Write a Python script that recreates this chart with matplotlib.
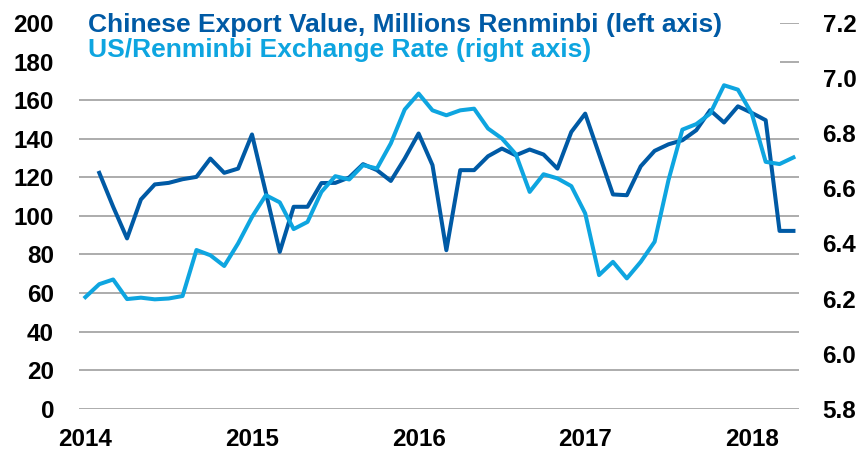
import numpy as np
import matplotlib
matplotlib.use("Agg")
import matplotlib.pyplot as plt
from matplotlib.patches import Rectangle

plt.rcParams['font.family'] = ['Liberation Sans', 'DejaVu Sans']
plt.rcParams['font.weight'] = 'bold'

# meses desde enero 2014
years = ["2014", "2015", "2016", "2017", "2018"]
year_pos = [0, 12, 24, 36, 48]

# valor de exportaciones (eje izquierdo), feb 2014 - abr 2018
export_months = list(range(1, 52))
export_value = [122.3, 104.7, 88.3, 108.5, 116.3, 117.1, 119.0, 120.2, 129.7, 122.3,
                124.5, 142.2, 112.0, 81.3, 104.7, 104.7, 117.0, 117.1, 119.9, 126.8,
                123.7, 118.1, 129.7, 142.7, 126.3, 82.2, 123.7, 123.7, 130.9, 134.9,
                131.4, 134.4, 131.8, 124.5, 143.5, 153.0, 132.0, 111.1, 110.7, 125.7,
                133.7, 137.1, 139.2, 144.4, 154.8, 148.4, 156.8, 153.4, 149.6, 92.2,
                92.2]

# tipo de cambio (eje derecho), ene 2014 - abr 2018
rate_months = list(range(0, 52))
exchange_rate = [6.205, 6.252, 6.269, 6.198, 6.203, 6.197, 6.200, 6.209, 6.376, 6.357,
                 6.318, 6.400, 6.496, 6.575, 6.549, 6.452, 6.478, 6.587, 6.644, 6.632,
                 6.684, 6.672, 6.763, 6.886, 6.944, 6.883, 6.865, 6.883, 6.889, 6.817,
                 6.781, 6.724, 6.587, 6.651, 6.636, 6.608, 6.509, 6.285, 6.333, 6.273,
                 6.333, 6.406, 6.630, 6.813, 6.833, 6.871, 6.974, 6.958, 6.871, 6.696,
                 6.688, 6.712]

dark = "#005aa5"
light = "#0ea5e0"

fig = plt.figure(figsize=(8.61, 4.51), dpi=100)
ax = fig.add_axes([79/861, 1-408.7/451, 720/861, 385.7/451])
ax2 = ax.twinx()

ax.plot(export_months, export_value, color=dark, lw=2.9, zorder=3)
ax2.plot(rate_months, exchange_rate, color=light, lw=2.9, zorder=3)

ax.set_xlim(-0.46, 51.4)
ax.set_ylim(0, 200)
ax2.set_ylim(5.8, 7.2)
ax.set_yticks(np.arange(0, 201, 20))
ax2.set_yticks(np.arange(5.8, 7.21, 0.2))
ax2.set_yticklabels(["%.1f" % v for v in np.arange(5.8, 7.21, 0.2)])
ax.set_xticks(year_pos)
ax.set_xticklabels(years)

ax.grid(axis='y', color="#a6a6a6", lw=1.3)
ax.set_axisbelow(True)
for a in (ax, ax2):
    for s in a.spines.values():
        s.set_visible(False)
    a.tick_params(length=0, labelsize=17.5)
ax.tick_params(axis='y', pad=18)
ax2.tick_params(axis='y', pad=17)
ax.tick_params(axis='x', pad=14)

# caja blanca de la leyenda
ax.add_patch(Rectangle((0, 0.865), 0.974, 0.2, transform=ax.transAxes,
                       facecolor="white", edgecolor="none", zorder=1.5, clip_on=False))
fig.text(88/861, 1-25/451, "Chinese Export Value, Millions Renminbi (left axis)",
         color=dark, fontsize=19, va='center', ha='left')
fig.text(88/861, 1-50/451, "US/Renminbi Exchange Rate (right axis)",
         color=light, fontsize=19, va='center', ha='left')

fig.savefig("out.png", dpi=100)
